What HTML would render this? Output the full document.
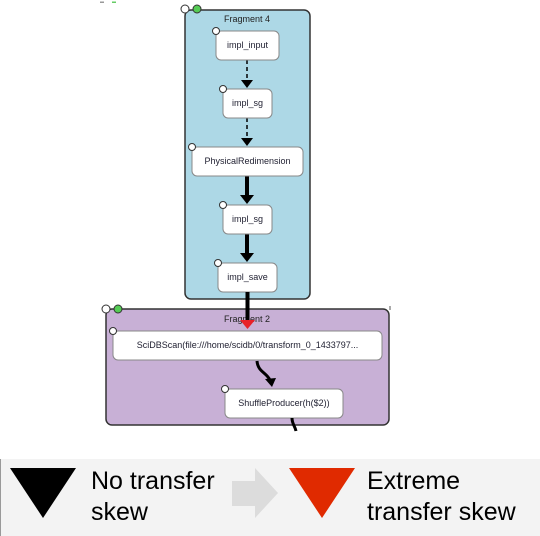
<!DOCTYPE html>
<html><head><meta charset="utf-8"><style>
html,body{margin:0;padding:0;background:#fff;width:540px;height:536px;overflow:hidden}
svg{display:block}
text{font-family:"Liberation Sans",sans-serif}
</style></head><body>
<svg width="540" height="536" viewBox="0 0 540 536" xmlns="http://www.w3.org/2000/svg">
<rect x="100" y="1.5" width="4" height="1.5" fill="#999"/>
<rect x="112" y="1.5" width="4" height="1.5" fill="#6c6"/>
<rect x="185" y="10" width="125" height="289" rx="6" fill="#add8e6" stroke="#333" stroke-width="1.5"/>
<text x="247" y="22" font-size="9" text-anchor="middle" fill="#222">Fragment 4</text>
<circle cx="185" cy="9" r="4" fill="#fff" stroke="#333"/>
<circle cx="197" cy="9" r="4" fill="#5c5" stroke="#333"/>
<line x1="247" y1="60" x2="247" y2="80" stroke="#000" stroke-width="1.5" stroke-dasharray="4,3"/>
<polygon points="241,80 253,80 247,88" fill="#000"/>
<line x1="247" y1="118" x2="247" y2="138" stroke="#000" stroke-width="1.5" stroke-dasharray="4,3"/>
<polygon points="241,138 253,138 247,146" fill="#000"/>
<line x1="247" y1="176" x2="247" y2="196" stroke="#000" stroke-width="4"/>
<polygon points="240,195 254,195 247,204" fill="#000"/>
<line x1="247" y1="234" x2="247" y2="254" stroke="#000" stroke-width="4"/>
<polygon points="240,253 254,253 247,262" fill="#000"/>
<g fill="#fff" stroke="#888" stroke-width="1">
<rect x="216" y="31" width="63" height="29" rx="5"/>
<rect x="223" y="89" width="49" height="29" rx="5"/>
<rect x="192" y="147" width="111" height="29" rx="5"/>
<rect x="223" y="205" width="49" height="29" rx="5"/>
<rect x="218" y="263" width="59" height="29" rx="5"/>
</g>
<g fill="#fff" stroke="#333" stroke-width="1">
<circle cx="216" cy="31" r="3.5"/><circle cx="223" cy="89" r="3.5"/><circle cx="192" cy="147" r="3.5"/><circle cx="223" cy="205" r="3.5"/><circle cx="218" cy="263" r="3.5"/>
</g>
<g font-size="9" text-anchor="middle" fill="#223">
<text x="247.5" y="48">impl_input</text>
<text x="247.5" y="106">impl_sg</text>
<text x="247.5" y="164">PhysicalRedimension</text>
<text x="247.5" y="222">impl_sg</text>
<text x="247.5" y="280">impl_save</text>
</g>
<rect x="106" y="309" width="283" height="116" rx="6" fill="#c8b0d6" stroke="#333" stroke-width="1.5"/>
<line x1="390" y1="306" x2="390" y2="310" stroke="#555"/>
<text x="247" y="322" font-size="9" text-anchor="middle" fill="#222">Fragment 2</text>
<circle cx="106" cy="309" r="4" fill="#fff" stroke="#333"/>
<circle cx="118" cy="309" r="4" fill="#5c5" stroke="#333"/>
<line x1="247.5" y1="292" x2="247.5" y2="322" stroke="#000" stroke-width="4"/>
<polygon points="240,320 255,320 247.5,329" fill="#e8202a"/>
<rect x="113" y="331" width="269" height="29" rx="5" fill="#fff" stroke="#888"/>
<circle cx="113" cy="331" r="3.5" fill="#fff" stroke="#333"/>
<text x="247.5" y="348" font-size="9" text-anchor="middle" fill="#223">SciDBScan(file:///home/scidb/0/transform_0_1433797...</text>
<path d="M257,361 C258,372 266,372 270,380" fill="none" stroke="#000" stroke-width="3"/>
<polygon points="265,379 276,378 272,387" fill="#000"/>
<rect x="225" y="389" width="118" height="29" rx="5" fill="#fff" stroke="#888"/>
<circle cx="225" cy="389" r="3.5" fill="#fff" stroke="#333"/>
<text x="284" y="406" font-size="9" text-anchor="middle" fill="#223">ShuffleProducer(h($2))</text>
<path d="M292,418 C292,424 295,426 296,431" fill="none" stroke="#000" stroke-width="3"/>
<rect x="0" y="459" width="540" height="77" fill="#f3f3f3"/>
<line x1="0.5" y1="459" x2="0.5" y2="536" stroke="#999"/>
<polygon points="10,468 76,468 43,518" fill="#000"/>
<polygon points="232,481 255,481 255,468 278,493 255,518 255,506 232,506" fill="#dcdcdc"/>
<polygon points="289,468 355,468 322,518" fill="#e02a00"/>
<g font-size="25" fill="#000">
<text x="91" y="489">No transfer</text>
<text x="91" y="520">skew</text>
<text x="367" y="489">Extreme</text>
<text x="367" y="520">transfer skew</text>
</g>
</svg>
</body></html>
